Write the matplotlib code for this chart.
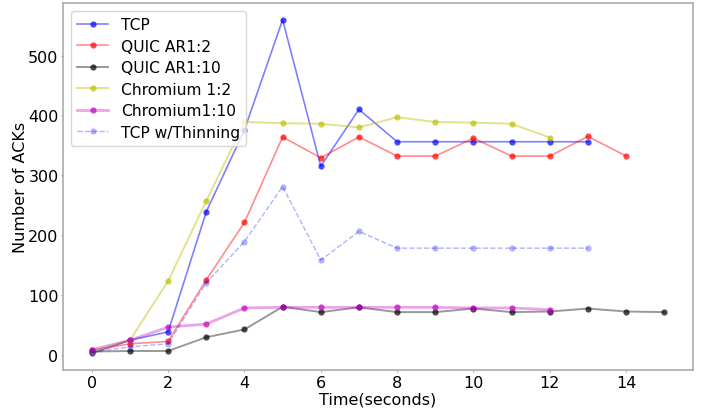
import matplotlib
matplotlib.use("Agg")
import matplotlib.pyplot as plt
from matplotlib.colors import to_rgba

tcp_x = list(range(0, 14))
tcp_y = [2, 24, 38, 239, 376, 560, 315, 410, 356, 356, 356, 356, 356, 356]

quic2_x = list(range(0, 15))
quic2_y = [7, 18, 22, 125, 221, 364, 329, 364, 332, 332, 362, 332, 332, 365, 332]

quic10_x = list(range(0, 16))
quic10_y = [5, 6, 6, 29, 42, 80, 71, 79, 71, 71, 77, 71, 72, 77, 72, 71]

chr2_x = list(range(0, 13))
chr2_y = [5, 24, 123, 257, 389, 387, 386, 380, 397, 389, 388, 386, 363]

chr10_x = list(range(0, 13))
chr10_y = [8, 24, 46, 51, 78, 79, 79, 79, 79, 79, 78, 78, 75]

thin_x = list(range(0, 14))
thin_y = [4, 13, 18, 120, 189, 281, 158, 206, 178, 178, 178, 178, 178, 178]

series = [
    (tcp_x, tcp_y, 'blue', 'TCP', '-', 0.5, 1.2, 0.7),
    (quic2_x, quic2_y, 'red', 'QUIC AR1:2', '-', 0.45, 1.2, 0.7),
    (quic10_x, quic10_y, 'black', 'QUIC AR1:10', '-', 0.4, 1.4, 0.7),
    (chr2_x, chr2_y, '#bfbf00', 'Chromium 1:2', '-', 0.45, 1.4, 0.7),
    (chr10_x, chr10_y, 'm', 'Chromium1:10', '-', 0.35, 2.0, 0.7),
    (thin_x, thin_y, 'blue', 'TCP w/Thinning', '--', 0.3, 1.0, 0.3),
]

fig = plt.figure(figsize=(7.02, 4.10), dpi=100)
ax = fig.add_axes([0.090, 0.095, 0.897, 0.895])

for x, y, c, lab, ls, la, lw, ma in series:
    ax.plot(x, y, linestyle=ls, marker='o', color=to_rgba(c, la), lw=lw,
            ms=4.5, markerfacecolor=to_rgba(c, ma), markeredgewidth=0, label=lab)

ax.set_xticks([0, 2, 4, 6, 8, 10, 12, 14])
ax.set_yticks([0, 100, 200, 300, 400, 500])
ax.tick_params(labelsize=11.5, color='#aaaaaa', length=1.5, pad=1.8)
for s in ax.spines.values():
    s.set_color('#aaaaaa')
    s.set_linewidth(1.2)

ax.set_xlabel('Time(seconds)', fontsize=11.5, labelpad=1)
ax.set_ylabel('Number of ACKs', fontsize=11.5, labelpad=0)
ax.legend(loc='upper left', fontsize=11.2, labelspacing=0.42)

fig.savefig('out.png', dpi=100)
